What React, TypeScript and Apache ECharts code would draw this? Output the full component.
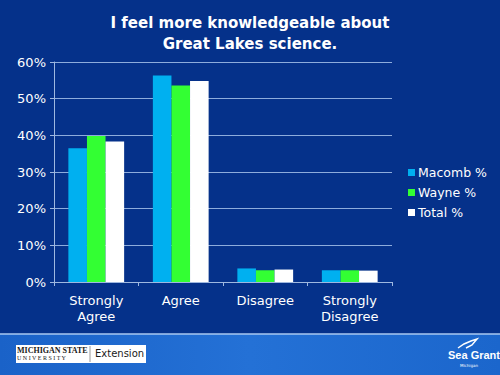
import React, { useEffect, useRef } from "react";
import * as echarts from "echarts";

const categories = ["Strongly\nAgree", "Agree", "Disagree", "Strongly\nDisagree"];
const macomb = [36.5, 56.3, 3.7, 3.2];
const wayne = [39.8, 53.6, 3.2, 3.2];
const total = [38.3, 54.8, 3.4, 3.1];
const seriesNames = ["Macomb %", "Wayne %", "Total %"];
const yTicks = { min: 0, max: 60, interval: 10 };

const FONT = "DejaVu Sans";

export default function App() {
  const ref = useRef<HTMLDivElement>(null);
  useEffect(() => {
    const chart = echarts.init(ref.current!, null, { renderer: "svg" });
    chart.setOption({
      animation: false,
      backgroundColor: "#05318a",
      textStyle: { fontFamily: FONT },
      title: {
        text: "I feel more knowledgeable about\nGreat Lakes science.",
        left: "center",
        top: 7,
        textStyle: { color: "#ffffff", fontSize: 15, fontWeight: "bold", fontFamily: FONT, lineHeight: 21 },
      },
      legend: {
        orient: "vertical",
        left: 403,
        top: 161,
        itemWidth: 7,
        itemHeight: 7,
        itemGap: 7,
        icon: "rect",
        textStyle: { color: "#ffffff", fontSize: 12.5, fontFamily: FONT, padding: [0, 0, 0, -2] },
        data: seriesNames,
      },
      grid: { left: 54, right: 108, top: 62, bottom: 93, containLabel: false },
      xAxis: {
        type: "category",
        data: categories,
        axisLine: { lineStyle: { color: "#9fb8e0", width: 1 } },
        axisTick: { show: true, length: 4, lineStyle: { color: "#9fb8e0" } },
        axisLabel: { color: "#ffffff", fontSize: 13, fontFamily: FONT, margin: 10, lineHeight: 16 },
      },
      yAxis: {
        type: "value",
        min: yTicks.min,
        max: yTicks.max,
        interval: yTicks.interval,
        axisLine: { show: true, lineStyle: { color: "#9fb8e0" } },
        axisTick: { show: true, length: 4, lineStyle: { color: "#9fb8e0" } },
        splitLine: { lineStyle: { color: "#8eacdc", width: 1 } },
        axisLabel: { color: "#ffffff", fontSize: 13, fontFamily: FONT, formatter: "{value}%", margin: 8 },
      },
      series: [
        { name: seriesNames[0], type: "bar", data: macomb, itemStyle: { color: "#00b0f0" }, barGap: "0%", barCategoryGap: "34%" },
        { name: seriesNames[1], type: "bar", data: wayne, itemStyle: { color: "#33ff33" }, barGap: "0%", barCategoryGap: "34%" },
        { name: seriesNames[2], type: "bar", data: total, itemStyle: { color: "#ffffff" }, barGap: "0%", barCategoryGap: "34%" },
      ],
      graphic: [
        {
          type: "rect",
          shape: { x: 0, y: 334, width: 500, height: 41 },
          style: {
            fill: new echarts.graphic.LinearGradient(0, 0, 1, 0, [
              { offset: 0, color: "#1a62c8" },
              { offset: 0.5, color: "#2471d6" },
              { offset: 1, color: "#1b66cc" },
            ]),
          },
          z: 10,
        },
        { type: "line", shape: { x1: 0, y1: 334, x2: 500, y2: 334 }, style: { stroke: "#a8c8f0", lineWidth: 1.5 }, z: 11 },
        { type: "rect", shape: { x: 16, y: 345, width: 130, height: 18 }, style: { fill: "#ffffff" }, z: 11 },
        { type: "line", shape: { x1: 90, y1: 346, x2: 90, y2: 362 }, style: { stroke: "#999999", lineWidth: 1 }, z: 12 },
        { type: "text", x: 17, y: 346, style: { text: "MICHIGAN STATE", fill: "#1a1a1a", font: "bold 8px 'Liberation Serif'" }, z: 12 },
        { type: "text", x: 17, y: 355, style: { text: "U N I V E R S I T Y", fill: "#1a1a1a", font: "6px 'Liberation Serif'" }, z: 12 },
        { type: "text", x: 95, y: 348, style: { text: "Extension", fill: "#1a1a1a", font: "10px 'DejaVu Sans'" }, z: 12 },
        { type: "text", x: 448, y: 349, style: { text: "Sea Grant", fill: "#ffffff", font: "bold 11px 'Liberation Sans Narrow', 'Liberation Sans'" }, z: 12 },
        { type: "text", x: 460, y: 363, style: { text: "Michigan", fill: "#ffffff", font: "4px 'DejaVu Sans'" }, z: 12 },
        { type: "polyline", shape: { points: [[458, 348], [464, 344], [471, 341], [477, 339], [472, 345], [466, 348]] }, style: { stroke: "#ffffff", fill: "none", lineWidth: 1.5 }, z: 12 },
      ],
    });
    return () => chart.dispose();
  }, []);
  return <div ref={ref} style={{ position: "fixed", left: 0, top: 0, width: 500, height: 375 }} />;
}
